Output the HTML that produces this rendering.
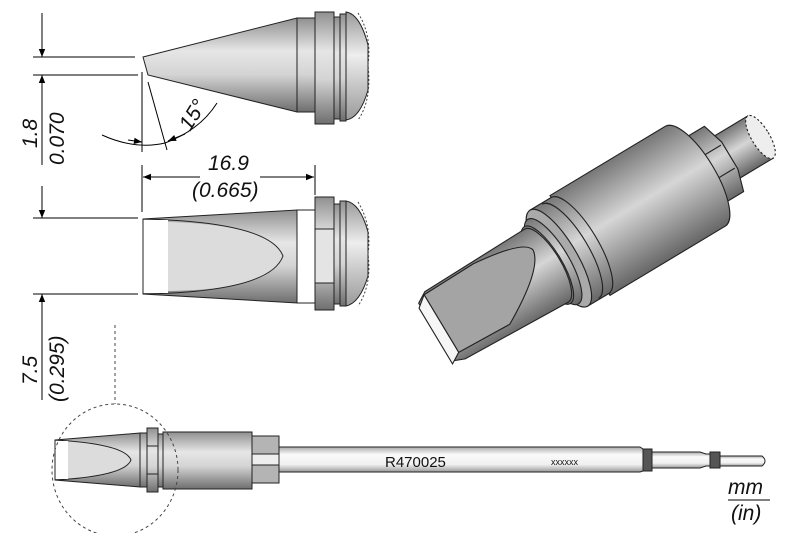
<!DOCTYPE html>
<html><head><meta charset="utf-8"><style>
html,body{margin:0;padding:0;background:#fff}
svg{display:block}
text{font-family:"Liberation Sans",sans-serif}
.it{font-style:italic;font-size:21px;fill:#111}
</style></head><body>
<svg width="800" height="533" viewBox="0 0 800 533" xmlns="http://www.w3.org/2000/svg">
<defs>
<linearGradient id="gv" x1="0" y1="0" x2="0" y2="1">
<stop offset="0" stop-color="#909090"/><stop offset="0.35" stop-color="#e6e6e6"/><stop offset="0.6" stop-color="#d4d4d4"/><stop offset="1" stop-color="#6e6e6e"/></linearGradient>
<linearGradient id="gv2" x1="0" y1="0" x2="0" y2="1">
<stop offset="0" stop-color="#9a9a9a"/><stop offset="0.4" stop-color="#eeeeee"/><stop offset="1" stop-color="#9a9a9a"/></linearGradient>
<linearGradient id="gs" x1="0" y1="0" x2="0" y2="1">
<stop offset="0" stop-color="#aaa"/><stop offset="0.3" stop-color="#fafafa"/><stop offset="0.7" stop-color="#f0f0f0"/><stop offset="1" stop-color="#999"/></linearGradient>
<linearGradient id="g3" x1="0" y1="0" x2="0" y2="1">
<stop offset="0" stop-color="#777"/><stop offset="0.45" stop-color="#d6d6d6"/><stop offset="1" stop-color="#666"/></linearGradient>
<marker id="ar" viewBox="0 0 10 10" refX="10" refY="5" markerWidth="14" markerHeight="8" markerUnits="userSpaceOnUse" orient="auto"><path d="M0,1 L10,5 L0,9z" fill="#000"/></marker>
</defs>
<g stroke="#000" stroke-width="1" fill="none">
<line x1="42" y1="13" x2="42" y2="57" marker-end="url(#ar)"/>
<line x1="42" y1="100" x2="42" y2="75" marker-end="url(#ar)"/>
<line x1="42" y1="75" x2="42" y2="165"/>
<line x1="33" y1="57" x2="135" y2="57"/>
<line x1="33" y1="75" x2="138" y2="75"/>
<line x1="42" y1="186" x2="42" y2="218" marker-end="url(#ar)"/>
<line x1="42" y1="400" x2="42" y2="294" marker-end="url(#ar)"/>
<line x1="33" y1="218" x2="138" y2="218"/>
<line x1="33" y1="294" x2="138" y2="294"/>
<line x1="142" y1="72" x2="142" y2="152"/>
<line x1="148" y1="82" x2="167" y2="150"/>
<path d="M102,135 Q135,150 165,143 Q200,130 217,103"/>
<line x1="128" y1="140" x2="142" y2="142" marker-end="url(#ar)"/>
<line x1="185" y1="134" x2="168" y2="141" marker-end="url(#ar)"/>
<line x1="142" y1="165" x2="142" y2="212"/>
<line x1="315" y1="165" x2="315" y2="195"/>
<line x1="200" y1="177" x2="143" y2="177" marker-end="url(#ar)"/>
<line x1="260" y1="177" x2="314" y2="177" marker-end="url(#ar)"/>
</g>
<text class="it" transform="translate(37,148) rotate(-90)">1.8</text>
<text class="it" transform="translate(64,165) rotate(-90)">0.070</text>
<text class="it" transform="translate(37,385) rotate(-90)">7.5</text>
<text class="it" transform="translate(64,402) rotate(-90)">(0.295)</text>
<text class="it" transform="translate(190,132) rotate(-58)">15°</text>
<text class="it" x="208" y="170">16.9</text>
<text class="it" x="192" y="197">(0.665)</text>

<g stroke="#222" stroke-width="1">
<path d="M143,57 L297,18 L297,112 L148,75 Z" fill="url(#gv)"/>
<rect x="297" y="18" width="18" height="94" fill="url(#gv)"/>
<rect x="315" y="12" width="19" height="112" fill="url(#gv)"/>
<rect x="334" y="17" width="6" height="102" fill="url(#gv)"/>
<rect x="340" y="14" width="6" height="107" fill="url(#gv)"/>
<path d="M346,12 Q360,14 368,45 L368,90 Q360,118 346,120 Z" fill="url(#gv2)"/>
</g>
<path d="M358,13 Q372,35 368,65 Q372,100 358,120" fill="none" stroke="#444" stroke-dasharray="2,2"/>
<g stroke="#222" stroke-width="1">
<path d="M143,219 L297,210 L297,303 L143,294 Z" fill="url(#gv)"/>
<path d="M168,222 Q270,225 283,256 Q270,290 168,291 Z" fill="#dcdcdc" stroke="none"/>
<path d="M143,219 Q270,222 283,256 Q270,292 143,294" fill="none"/>
<rect x="143" y="220" width="25" height="73" fill="#fff" stroke="none"/>
<line x1="143" y1="219" x2="143" y2="294"/>
<rect x="297" y="210" width="18" height="93" fill="none"/>
<rect x="315" y="197" width="19" height="113" fill="url(#gv)"/>
<rect x="315" y="229" width="19" height="54" fill="#e4e4e4"/>
<rect x="334" y="204" width="6" height="100" fill="url(#gv)"/>
<rect x="340" y="201" width="6" height="105" fill="url(#gv)"/>
<path d="M346,201 Q360,203 368,232 L368,276 Q360,303 346,306 Z" fill="url(#gv2)"/>
</g>
<path d="M358,202 Q372,225 368,254 Q372,285 358,306" fill="none" stroke="#444" stroke-dasharray="2,2"/>

<g transform="translate(436,332) rotate(-31) scale(1.12)" stroke="#222" stroke-width="1">
<rect x="300" y="-22" width="38" height="44" fill="url(#g3)"/>
<ellipse cx="338" cy="0" rx="8" ry="22" fill="#eee" stroke-dasharray="2,2"/>
<path d="M268,-34 L300,-34 L306,-14 L306,14 L300,34 L268,34 Z" fill="url(#g3)"/>
<line x1="268" y1="-12" x2="304" y2="-12"/>
<line x1="268" y1="12" x2="304" y2="12"/>
<path d="M150,-52 L270,-52 A18,52 0 0 1 270,52 L150,52 Z" fill="url(#g3)"/>
<path d="M128,-50 L150,-50 A16,50 0 0 1 150,50 L128,50 Z" fill="url(#g3)"/>
<path d="M140,-49 A16,49 0 0 1 140,49" fill="none"/>
<ellipse cx="128" cy="0" rx="16" ry="50" fill="#aaa"/>
<ellipse cx="122" cy="0" rx="14" ry="44" fill="url(#g3)"/>
<ellipse cx="116" cy="0" rx="13" ry="40" fill="url(#g3)"/>
<path d="M0,-30 L10,-36 L115,-38 A13,38 0 0 1 115,38 L10,34 L0,30 Z" fill="url(#g3)"/>
<path d="M8,-34 L60,-35 Q110,-30 112,-18 Q110,0 60,28 L8,26 Z" fill="#a4a4a4"/>
<path d="M-2,-26 L8,-34 L8,26 L-2,32 Z" fill="#f6f6f6"/>
</g>

<g stroke="#222" stroke-width="1">
<path d="M279,447 L640,447 L643,449 L643,471 L640,472 L279,472 Z" fill="url(#gs)"/>
<rect x="643" y="449" width="9" height="22" fill="#555"/>
<path d="M652,452 L700,452 L706,454 L710,454 L710,466 L706,466 L700,468 L652,468 Z" fill="url(#gs)"/>
<rect x="710" y="452" width="10" height="16" fill="#555"/>
<path d="M720,456 L762,456 Q768,461 762,466 L720,466 Z" fill="url(#gs)"/>
<rect x="252" y="436" width="27" height="47" fill="#b4b4b4"/>
<rect x="252" y="454" width="27" height="11" fill="#eee"/>
<rect x="163" y="432" width="89" height="57" fill="url(#gv)"/>
<rect x="158" y="434" width="5" height="53" fill="url(#gv)"/>
<rect x="147" y="428" width="11" height="64" fill="url(#gv)"/>
<line x1="147" y1="446" x2="158" y2="446"/><line x1="147" y1="474" x2="158" y2="474"/>
<path d="M55,440 L140,433 L147,433 L147,487 L140,487 L55,480 Z" fill="url(#gv)"/>
<path d="M68,441 Q125,446 131,460 Q125,475 68,479 Z" fill="#dcdcdc" stroke="none"/>
<path d="M55,440 Q125,444 131,460 Q125,476 55,480" fill="none"/>
<rect x="55" y="441" width="13" height="38" fill="#fff" stroke="none"/>
<line x1="55" y1="440" x2="55" y2="480"/>
<line x1="140" y1="433" x2="140" y2="487"/>
</g>
<ellipse cx="115" cy="470" rx="63" ry="66" fill="none" stroke="#444" stroke-dasharray="3,3"/>
<line x1="115" y1="325" x2="115" y2="404" stroke="#444" stroke-dasharray="3,3"/>
<text x="385" y="467" font-size="15" fill="#111">R470025</text>
<text x="551" y="465" font-size="9" fill="#111">xxxxxx</text>
<text class="it" x="728" y="494">mm</text>
<line x1="728" y1="500" x2="770" y2="500" stroke="#000"/>
<text class="it" x="731" y="520">(in)</text>
</svg>
</body></html>
